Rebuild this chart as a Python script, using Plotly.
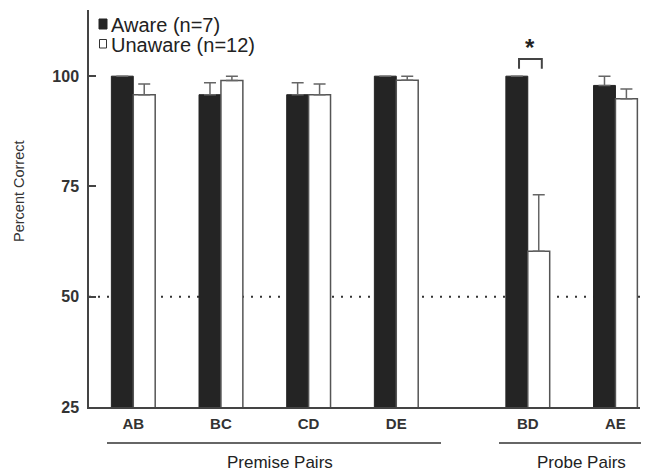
import plotly.graph_objects as go

# ---- data ----
pairs = ["AB", "BC", "CD", "DE", "BD", "AE"]
positions = [0, 1, 2, 3, 4.5, 5.5]
aware = [100, 95.8, 95.8, 100, 100, 97.9]
aware_err = [0, 2.7, 2.7, 0, 0, 2.1]
unaware = [95.8, 99.0, 95.8, 99.1, 60.3, 94.9]
unaware_err = [2.4, 1.0, 2.4, 0.9, 12.8, 2.2]
zeros = [0] * len(pairs)
chance = 50
groups = ["Premise Pairs", "Probe Pairs"]
legend_labels = ["Aware (n=7)", "Unaware (n=12)"]

FONT = "Arial, Liberation Sans, sans-serif"
DARK = "#242424"
GREY = "#555555"

# plot area in pixels: x 89..640, y 10..407
L, R, T, B = 89, 10, 10, 64
W, H = 650, 471
PW, PH = W - L - R, H - T - B


def px(xp):
    return (xp - L) / PW


def py(yp):
    return (H - B - yp) / PH


fig = go.Figure()
fig.add_trace(go.Bar(
    x=positions, y=aware, width=0.25, offset=-0.25,
    marker=dict(color=DARK, line=dict(color=DARK, width=1)),
    error_y=dict(type="data", array=aware_err, arrayminus=zeros, symmetric=False,
                 color="#666666", thickness=1.5, width=6),
    name=legend_labels[0], showlegend=False,
))
fig.add_trace(go.Bar(
    x=positions, y=unaware, width=0.25, offset=0,
    marker=dict(color="white", line=dict(color=GREY, width=1.5)),
    error_y=dict(type="data", array=unaware_err, arrayminus=zeros, symmetric=False,
                 color="#666666", thickness=1.5, width=6),
    name=legend_labels[1], showlegend=False,
))

shapes = []
# chance line (dotted, behind bars)
shapes.append(dict(type="line", xref="x", yref="y", x0=-0.505, x1=5.78, y0=chance, y1=chance,
                   layer="below", line=dict(color="#333333", width=2, dash="2px,7px")))
# significance bracket
shapes.append(dict(type="path", xref="x", yref="y",
                   path="M 4.40 101.7 L 4.40 103.9 L 4.66 103.9 L 4.66 101.7",
                   line=dict(color="#444444", width=2)))
# group underlines
shapes.append(dict(type="line", xref="paper", yref="paper", x0=px(107), x1=px(441),
                   y0=py(443), y1=py(443), line=dict(color="#333333", width=1.5)))
shapes.append(dict(type="line", xref="paper", yref="paper", x0=px(499), x1=px(641),
                   y0=py(443), y1=py(443), line=dict(color="#333333", width=1.5)))
# legend swatches
shapes.append(dict(type="rect", xref="paper", yref="paper", x0=px(99), x1=px(107),
                   y0=py(29), y1=py(19), fillcolor=DARK, line=dict(color=DARK, width=1)))
shapes.append(dict(type="rect", xref="paper", yref="paper", x0=px(99.5), x1=px(106.5),
                   y0=py(48), y1=py(39.5), fillcolor="white", line=dict(color="#333333", width=1)))

annotations = [
    dict(text="<b>*</b>", xref="x", yref="y", x=4.53, y=106.5, showarrow=False,
         font=dict(family=FONT, size=24, color="#222222")),
    dict(text=groups[0], xref="paper", yref="paper", x=px(280), y=py(462), showarrow=False,
         font=dict(family=FONT, size=17, color="#222222"), xanchor="center", yanchor="middle"),
    dict(text=groups[1], xref="paper", yref="paper", x=px(581), y=py(462), showarrow=False,
         font=dict(family=FONT, size=17, color="#222222"), xanchor="center", yanchor="middle"),
    dict(text=legend_labels[0], xref="paper", yref="paper", x=px(110), y=py(24.5), showarrow=False,
         font=dict(family=FONT, size=20, color="#222222"), xanchor="left", yanchor="middle",
         borderpad=0),
    dict(text=legend_labels[1], xref="paper", yref="paper", x=px(110), y=py(45), showarrow=False,
         font=dict(family=FONT, size=20, color="#222222"), xanchor="left", yanchor="middle",
         borderpad=0),
    dict(text="Percent Correct", xref="paper", yref="paper", x=px(19), y=py(191), showarrow=False,
         textangle=-90, font=dict(family=FONT, size=14.5, color="#333333"),
         xanchor="center", yanchor="middle"),
]

fig.update_layout(
    width=W, height=H,
    margin=dict(l=L, r=R, t=T, b=B),
    paper_bgcolor="white", plot_bgcolor="white",
    barmode="overlay",
    shapes=shapes, annotations=annotations,
    font=dict(family=FONT),
)
fig.update_xaxes(
    range=[-0.505, 5.78], tickvals=positions, ticktext=pairs,
    showline=True, linecolor="#444444", linewidth=1.5, ticks="",
    showgrid=False, zeroline=False, ticklabelstandoff=2,
    tickfont=dict(family=FONT, size=15, color="#333333", weight="bold"),
)
fig.update_yaxes(
    range=[25, 115], tickvals=[25, 50, 75, 100],
    showline=True, linecolor="#444444", linewidth=1.5,
    ticks="inside", ticklen=7, tickwidth=1.5, tickcolor="#444444",
    showgrid=False, zeroline=False, ticklabelstandoff=5,
    tickfont=dict(family=FONT, size=16, color="#333333", weight="bold"),
)

fig.write_html("out.html")
